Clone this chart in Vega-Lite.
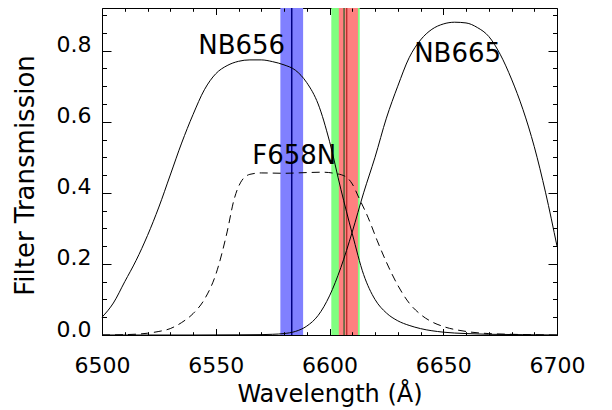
{
  "$schema": "https://vega.github.io/schema/vega-lite/v6.json",
  "width": 455,
  "height": 327,
  "autosize": {"type": "none"},
  "padding": {"left": 102, "top": 8, "right": 55, "bottom": 75},
  "background": "white",
  "config": {
    "view": {"stroke": "black", "strokeWidth": 1},
    "axis": {
      "grid": false, "domain": false,
      "labelColor": "black", "titleColor": "black",
      "labelFont": "DejaVu Sans", "titleFont": "DejaVu Sans",
      "labelFontSize": 22, "titleFontSize": 24, "titleFontWeight": "normal",
      "labelFlush": false, "labelOverlap": false
    }
  },
  "datasets": {
    "bands": [
      {"band": "blue", "lo": 6578.4, "hi": 6588.4},
      {"band": "green", "lo": 6600.8, "hi": 6613.3},
      {"band": "red", "lo": 6604.1, "hi": 6612.5}
    ],
    "lines": [
      {"line": "navy", "wl": 6583.4},
      {"line": "dkgreen", "wl": 6606.4},
      {"line": "dkred", "wl": 6607.6}
    ],
    "labels": [
      {"text": "NB656", "wl": 6561.4, "t": 0.812},
      {"text": "NB665", "wl": 6656.3, "t": 0.79},
      {"text": "F658N", "wl": 6584.5, "t": 0.504}
    ],
    "curves": [
      {"filter": "NB656", "wl": 6500, "t": 0.05},
      {"filter": "NB656", "wl": 6505, "t": 0.09},
      {"filter": "NB656", "wl": 6510, "t": 0.15},
      {"filter": "NB656", "wl": 6515, "t": 0.21},
      {"filter": "NB656", "wl": 6520, "t": 0.28},
      {"filter": "NB656", "wl": 6525, "t": 0.36},
      {"filter": "NB656", "wl": 6530, "t": 0.45},
      {"filter": "NB656", "wl": 6535, "t": 0.54},
      {"filter": "NB656", "wl": 6540, "t": 0.62},
      {"filter": "NB656", "wl": 6545, "t": 0.69},
      {"filter": "NB656", "wl": 6550, "t": 0.735},
      {"filter": "NB656", "wl": 6555, "t": 0.758},
      {"filter": "NB656", "wl": 6560, "t": 0.77},
      {"filter": "NB656", "wl": 6565, "t": 0.774},
      {"filter": "NB656", "wl": 6570, "t": 0.774},
      {"filter": "NB656", "wl": 6575, "t": 0.769},
      {"filter": "NB656", "wl": 6580, "t": 0.76},
      {"filter": "NB656", "wl": 6585, "t": 0.745},
      {"filter": "NB656", "wl": 6590, "t": 0.71},
      {"filter": "NB656", "wl": 6595, "t": 0.65},
      {"filter": "NB656", "wl": 6600, "t": 0.545},
      {"filter": "NB656", "wl": 6605, "t": 0.41},
      {"filter": "NB656", "wl": 6610, "t": 0.285},
      {"filter": "NB656", "wl": 6615, "t": 0.17},
      {"filter": "NB656", "wl": 6620, "t": 0.1},
      {"filter": "NB656", "wl": 6625, "t": 0.062},
      {"filter": "NB656", "wl": 6630, "t": 0.04},
      {"filter": "NB656", "wl": 6635, "t": 0.027},
      {"filter": "NB656", "wl": 6640, "t": 0.018},
      {"filter": "NB656", "wl": 6650, "t": 0.008},
      {"filter": "NB656", "wl": 6660, "t": 0.004},
      {"filter": "NB656", "wl": 6670, "t": 0.002},
      {"filter": "NB656", "wl": 6685, "t": 0.001},
      {"filter": "NB656", "wl": 6700, "t": 0.0},
      {"filter": "NB665", "wl": 6500, "t": 0.0},
      {"filter": "NB665", "wl": 6540, "t": 0.0},
      {"filter": "NB665", "wl": 6560, "t": 0.0005},
      {"filter": "NB665", "wl": 6570, "t": 0.001},
      {"filter": "NB665", "wl": 6575, "t": 0.002},
      {"filter": "NB665", "wl": 6580, "t": 0.004},
      {"filter": "NB665", "wl": 6585, "t": 0.01},
      {"filter": "NB665", "wl": 6590, "t": 0.025},
      {"filter": "NB665", "wl": 6595, "t": 0.055},
      {"filter": "NB665", "wl": 6600, "t": 0.11},
      {"filter": "NB665", "wl": 6605, "t": 0.19},
      {"filter": "NB665", "wl": 6610, "t": 0.29},
      {"filter": "NB665", "wl": 6615, "t": 0.4},
      {"filter": "NB665", "wl": 6620, "t": 0.5},
      {"filter": "NB665", "wl": 6625, "t": 0.61},
      {"filter": "NB665", "wl": 6630, "t": 0.7},
      {"filter": "NB665", "wl": 6635, "t": 0.78},
      {"filter": "NB665", "wl": 6640, "t": 0.83},
      {"filter": "NB665", "wl": 6645, "t": 0.86},
      {"filter": "NB665", "wl": 6650, "t": 0.875},
      {"filter": "NB665", "wl": 6655, "t": 0.88},
      {"filter": "NB665", "wl": 6660, "t": 0.878},
      {"filter": "NB665", "wl": 6665, "t": 0.865},
      {"filter": "NB665", "wl": 6670, "t": 0.84},
      {"filter": "NB665", "wl": 6675, "t": 0.79},
      {"filter": "NB665", "wl": 6680, "t": 0.72},
      {"filter": "NB665", "wl": 6685, "t": 0.635},
      {"filter": "NB665", "wl": 6690, "t": 0.53},
      {"filter": "NB665", "wl": 6695, "t": 0.4},
      {"filter": "NB665", "wl": 6700, "t": 0.25},
      {"filter": "F658N", "wl": 6500, "t": 0.0},
      {"filter": "F658N", "wl": 6510, "t": 0.001},
      {"filter": "F658N", "wl": 6520, "t": 0.005},
      {"filter": "F658N", "wl": 6525, "t": 0.01},
      {"filter": "F658N", "wl": 6530, "t": 0.018},
      {"filter": "F658N", "wl": 6535, "t": 0.035},
      {"filter": "F658N", "wl": 6540, "t": 0.06},
      {"filter": "F658N", "wl": 6545, "t": 0.1},
      {"filter": "F658N", "wl": 6550, "t": 0.17},
      {"filter": "F658N", "wl": 6555, "t": 0.29},
      {"filter": "F658N", "wl": 6558, "t": 0.38},
      {"filter": "F658N", "wl": 6561, "t": 0.43},
      {"filter": "F658N", "wl": 6565, "t": 0.452},
      {"filter": "F658N", "wl": 6570, "t": 0.456},
      {"filter": "F658N", "wl": 6580, "t": 0.455},
      {"filter": "F658N", "wl": 6590, "t": 0.457},
      {"filter": "F658N", "wl": 6597, "t": 0.458},
      {"filter": "F658N", "wl": 6602, "t": 0.455},
      {"filter": "F658N", "wl": 6607, "t": 0.446},
      {"filter": "F658N", "wl": 6610, "t": 0.425},
      {"filter": "F658N", "wl": 6613, "t": 0.385},
      {"filter": "F658N", "wl": 6617, "t": 0.33},
      {"filter": "F658N", "wl": 6621, "t": 0.265},
      {"filter": "F658N", "wl": 6625, "t": 0.205},
      {"filter": "F658N", "wl": 6630, "t": 0.14},
      {"filter": "F658N", "wl": 6635, "t": 0.09},
      {"filter": "F658N", "wl": 6640, "t": 0.058},
      {"filter": "F658N", "wl": 6645, "t": 0.037},
      {"filter": "F658N", "wl": 6650, "t": 0.024},
      {"filter": "F658N", "wl": 6660, "t": 0.01},
      {"filter": "F658N", "wl": 6670, "t": 0.004},
      {"filter": "F658N", "wl": 6680, "t": 0.002},
      {"filter": "F658N", "wl": 6700, "t": 0.0}
    ]
  },
  "layer": [
    {
      "data": {"name": "bands"},
      "mark": {"type": "rect"},
      "encoding": {
        "x": {
          "field": "lo", "type": "quantitative",
          "scale": {"domain": [6500, 6700], "nice": false, "zero": false},
          "axis": {
            "orient": "bottom", "values": [6500, 6550, 6600, 6650, 6700], "format": "d", "zindex": 1,
            "ticks": true, "tickColor": "black", "tickWidth": 1, "offset": -6.5, "tickSize": 6.5,
            "labelPadding": 20, "labelBaseline": "top",
            "title": "Wavelength (Å)", "titleY": 72.5, "titleBaseline": "alphabetic"
          }
        },
        "x2": {"field": "hi"},
        "color": {
          "field": "band", "type": "nominal",
          "scale": {"domain": ["blue", "green", "red"], "range": ["#8080ff", "#80ff80", "#ff8080"]},
          "legend": null
        }
      }
    },
    {
      "data": {"name": "lines"},
      "mark": {"type": "rule"},
      "encoding": {
        "x": {
          "field": "wl", "type": "quantitative",
          "scale": {"domain": [6500, 6700], "nice": false, "zero": false},
          "axis": {
            "orient": "bottom", "zindex": 1,
            "values": [6510, 6520, 6530, 6540, 6560, 6570, 6580, 6590, 6610, 6620, 6630, 6640, 6660, 6670, 6680, 6690],
            "ticks": true, "tickColor": "black", "tickWidth": 1, "offset": -3.3, "tickSize": 3.3, "labels": false, "title": null
          }
        },
        "color": {
          "field": "line", "type": "nominal",
          "scale": {"domain": ["navy", "dkgreen", "dkred"], "range": ["#000080", "#2a602a", "#a01010"]},
          "legend": null
        },
        "strokeWidth": {
          "field": "line", "type": "nominal",
          "scale": {"domain": ["navy", "dkgreen", "dkred"], "range": [1.5, 1, 2]},
          "legend": null
        }
      }
    },
    {
      "data": {"name": "curves"},
      "transform": [{"filter": "datum.filter !== 'F658N'"}],
      "mark": {"type": "line", "color": "black", "strokeWidth": 1, "interpolate": "monotone"},
      "encoding": {
        "x": {
          "field": "wl", "type": "quantitative",
          "scale": {"domain": [6500, 6700], "nice": false, "zero": false},
          "axis": {"orient": "top", "zindex": 1, "values": [6500, 6550, 6600, 6650, 6700], "ticks": true, "tickColor": "black", "tickWidth": 1, "offset": -6.5, "tickSize": 6.5, "labels": false, "title": null}
        },
        "y": {
          "field": "t", "type": "quantitative",
          "scale": {"domain": [0, 0.92], "nice": false, "zero": false},
          "axis": {
            "orient": "left", "zindex": 1, "values": [0, 0.2, 0.4, 0.6, 0.8], "format": ".1f",
            "ticks": true, "tickColor": "black", "tickWidth": 1,
            "offset": -9, "tickSize": 9, "labelPadding": 11, "labelOffset": -6,
            "title": "Filter Transmission", "titleFontSize": 26, "titleAngle": -90,
            "titleX": -86, "titleY": 167, "titleBaseline": "middle"
          }
        },
        "detail": {"field": "filter"}
      }
    },
    {
      "data": {"name": "curves"},
      "transform": [{"filter": "datum.filter === 'F658N'"}],
      "mark": {"type": "line", "color": "black", "strokeWidth": 1, "strokeDash": [8, 5], "interpolate": "monotone"},
      "encoding": {
        "x": {
          "field": "wl", "type": "quantitative",
          "scale": {"domain": [6500, 6700], "nice": false, "zero": false},
          "axis": {
            "orient": "top", "zindex": 1,
            "values": [6510, 6520, 6530, 6540, 6560, 6570, 6580, 6590, 6610, 6620, 6630, 6640, 6660, 6670, 6680, 6690],
            "ticks": true, "tickColor": "black", "tickWidth": 1, "offset": -3.3, "tickSize": 3.3, "labels": false, "title": null
          }
        },
        "y": {
          "field": "t", "type": "quantitative",
          "scale": {"domain": [0, 0.92], "nice": false, "zero": false},
          "axis": {
            "orient": "left", "zindex": 1,
            "values": [0.05, 0.1, 0.15, 0.25, 0.3, 0.35, 0.45, 0.5, 0.55, 0.65, 0.7, 0.75, 0.85, 0.9],
            "ticks": true, "tickColor": "black", "tickWidth": 1, "offset": -4.5, "tickSize": 4.5, "labels": false, "title": null
          }
        }
      }
    },
    {
      "data": {"name": "labels"},
      "transform": [{"filter": "datum.text !== 'F658N'"}],
      "mark": {"type": "text", "font": "DejaVu Sans", "fontSize": 26, "color": "black", "align": "center", "baseline": "middle"},
      "encoding": {
        "x": {"field": "wl", "type": "quantitative", "scale": {"domain": [6500, 6700], "nice": false, "zero": false}, "axis": null},
        "y": {
          "field": "t", "type": "quantitative",
          "scale": {"domain": [0, 0.92], "nice": false, "zero": false},
          "axis": {"orient": "right", "zindex": 1, "values": [0, 0.2, 0.4, 0.6, 0.8], "ticks": true, "tickColor": "black", "tickWidth": 1, "offset": -9, "tickSize": 9, "labels": false, "title": null}
        },
        "text": {"field": "text"}
      }
    },
    {
      "data": {"name": "labels"},
      "transform": [{"filter": "datum.text === 'F658N'"}],
      "mark": {"type": "text", "font": "DejaVu Sans", "fontSize": 26, "color": "black", "align": "center", "baseline": "middle"},
      "encoding": {
        "x": {"field": "wl", "type": "quantitative", "scale": {"domain": [6500, 6700], "nice": false, "zero": false}, "axis": null},
        "y": {
          "field": "t", "type": "quantitative",
          "scale": {"domain": [0, 0.92], "nice": false, "zero": false},
          "axis": {
            "orient": "right", "zindex": 1,
            "values": [0.05, 0.1, 0.15, 0.25, 0.3, 0.35, 0.45, 0.5, 0.55, 0.65, 0.7, 0.75, 0.85, 0.9],
            "ticks": true, "tickColor": "black", "tickWidth": 1, "offset": -4.5, "tickSize": 4.5, "labels": false, "title": null
          }
        },
        "text": {"field": "text"}
      }
    }
  ],
  "resolve": {
    "axis": {"x": "independent", "y": "independent"},
    "scale": {"color": "independent"}
  }
}
